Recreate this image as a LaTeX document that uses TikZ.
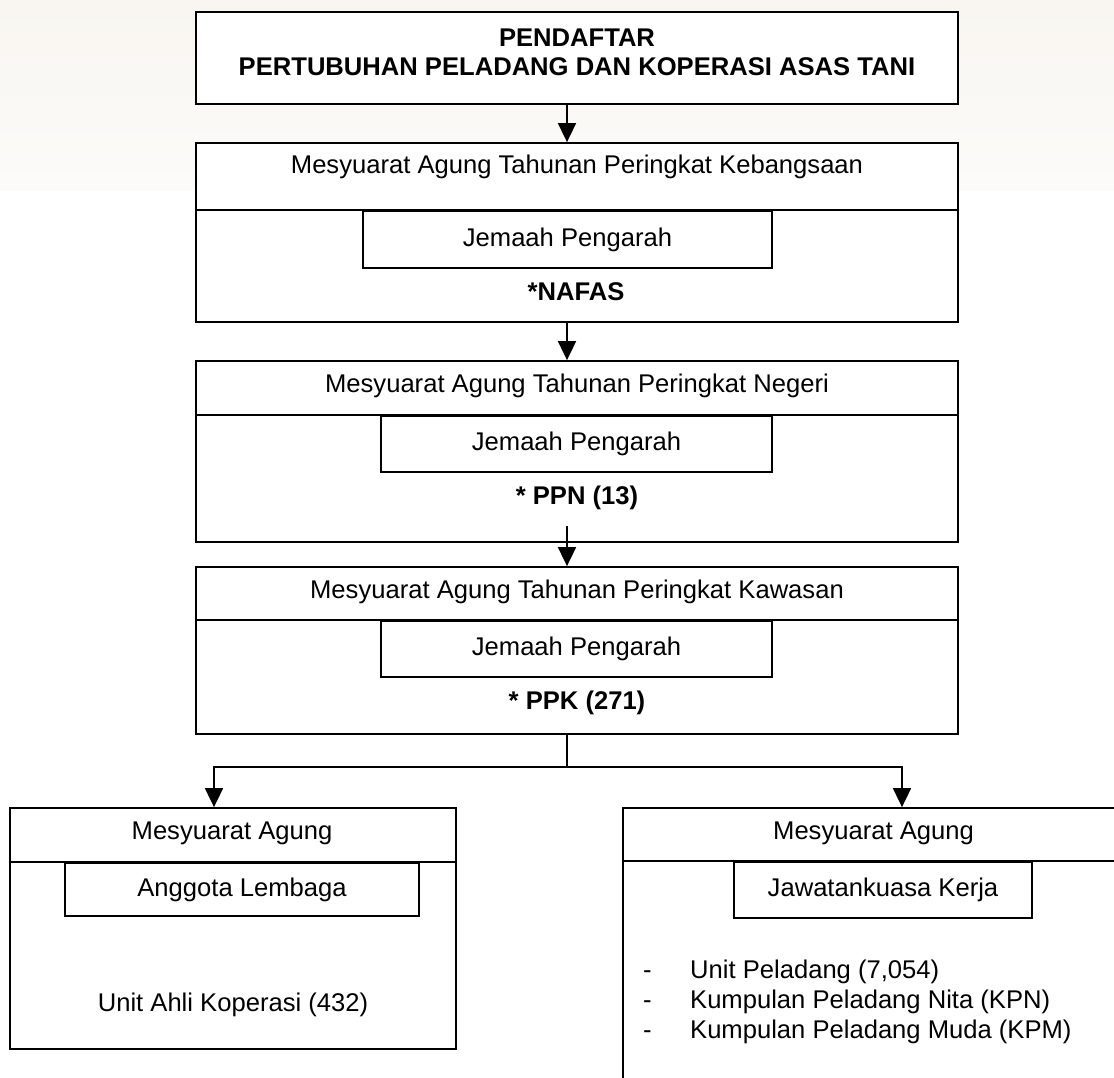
\documentclass[tikz,border=0pt]{standalone}
\usepackage{fontspec}
\setmainfont{Liberation Sans}
\usetikzlibrary{arrows.meta, positioning}
\definecolor{bgtop}{RGB}{249,246,241}
\definecolor{bgmid}{RGB}{253,253,248}
\definecolor{bgbot}{RGB}{252,251,249}
\tikzstyle{block} = [rectangle, draw, line width=1.8pt, fill=white, inner sep=0pt]
\tikzstyle{subbox} = [rectangle, draw, line width=1.8pt, fill=white, inner sep=0pt, font=\fontsize{25.6}{29}\selectfont]
\tikzstyle{txt} = [inner sep=0pt, font=\fontsize{25.6}{29}\selectfont]
\tikzstyle{btxt} = [inner sep=0pt, font=\fontsize{25.6}{29}\selectfont\bfseries]
\tikzstyle{link} = [line width=1.8pt]
\tikzstyle{arrow} = [line width=1.8pt, -{Triangle[length=19pt, width=18pt]}]

\begin{document}
\begin{tikzpicture}[x=1pt, y=-1pt]

	\useasboundingbox (0,0) rectangle (1114,1077);
	\clip (0,0) rectangle (1114,1077);

	% Background
	\shade[top color=bgtop, middle color=bgmid, bottom color=bgbot] (0,0) rectangle (1114,190);

	% Registrar
	\node (reg) [block, minimum width=762, minimum height=92] at (577,58) {};
	\node (regtxt) [btxt, align=center] at (577,52) {PENDAFTAR\\PERTUBUHAN PELADANG DAN KOPERASI ASAS TANI};

	% National level
	\node (mat1) [block, minimum width=762, minimum height=179] at (577,232.5) {};
	\draw[link] ([yshift=-68pt]mat1.north west) -- ([yshift=-68pt]mat1.north east);
	\node (mat1txt) [txt] at (577,167) {Mesyuarat Agung Tahunan Peringkat Kebangsaan};
	\node (jp1) [subbox, minimum width=409, minimum height=57] at (567.5,239.5) {Jemaah Pengarah};
	\node (nafas) [btxt] at (576,292) {*NAFAS};

	% State level
	\node (mat2) [block, minimum width=762, minimum height=181] at (577,451.5) {};
	\draw[link] ([yshift=-55pt]mat2.north west) -- ([yshift=-55pt]mat2.north east);
	\node (mat2txt) [txt] at (577,386) {Mesyuarat Agung Tahunan Peringkat Negeri};
	\node (jp2) [subbox, minimum width=391, minimum height=56] at (576.5,444) {Jemaah Pengarah};
	\node (ppn) [btxt] at (577,498) {* PPN (13)};

	% Area level
	\node (mat3) [block, minimum width=762, minimum height=167] at (577,650.5) {};
	\draw[link] ([yshift=-54pt]mat3.north west) -- ([yshift=-54pt]mat3.north east);
	\node (mat3txt) [txt] at (577,592) {Mesyuarat Agung Tahunan Peringkat Kawasan};
	\node (jp3) [subbox, minimum width=391, minimum height=56] at (576.5,649) {Jemaah Pengarah};
	\node (ppk) [btxt] at (577,703) {* PPK (271)};

	% Cooperative members
	\node (koop) [block, minimum width=446, minimum height=241] at (233,928.5) {};
	\draw[link] ([yshift=-55pt]koop.north west) -- ([yshift=-55pt]koop.north east);
	\node (kooptxt) [txt] at (232,833) {Mesyuarat Agung};
	\node (al) [subbox, minimum width=354, minimum height=53] at (242,889.5) {Anggota Lembaga};
	\node (unit) [txt] at (233,1005) {Unit Ahli Koperasi (432)};

	% Farmer units
	\node (unitp) [block, minimum width=501, minimum height=279] at (873.5,947.5) {};
	\draw[link] ([yshift=-54pt]unitp.north west) -- ([yshift=-54pt]unitp.north east);
	\node (unitptxt) [txt] at (873.5,833) {Mesyuarat Agung};
	\node (jk) [subbox, minimum width=298, minimum height=56] at (883,890) {Jawatankuasa Kerja};
	\node (senarai) [txt, anchor=west, align=left, font=\fontsize{25.6}{30}\selectfont] at (643,1002)
		{\makebox[47pt][l]{-}Unit Peladang (7,054)\\
		 \makebox[47pt][l]{-}Kumpulan Peladang Nita (KPN)\\
		 \makebox[47pt][l]{-}Kumpulan Peladang Muda (KPM)};

	% Arrows
	\coordinate (spine) at (567,0);
	\coordinate (a3) at (567,526);
	\coordinate (fork) at (567,767);
	\coordinate (forkl) at (214,767);
	\coordinate (forkr) at (902,767);
	\draw[arrow] (reg.south -| spine) -- (mat1.north -| spine);
	\draw[arrow] (mat1.south -| spine) -- (mat2.north -| spine);
	\draw[arrow] (a3) -- (mat3.north -| spine);
	\draw[link] (mat3.south -| spine) -- (fork);
	\draw[arrow] (fork) -| (koop.north -| forkl);
	\draw[arrow] (fork) -| (unitp.north -| forkr);

\end{tikzpicture}
\end{document}
